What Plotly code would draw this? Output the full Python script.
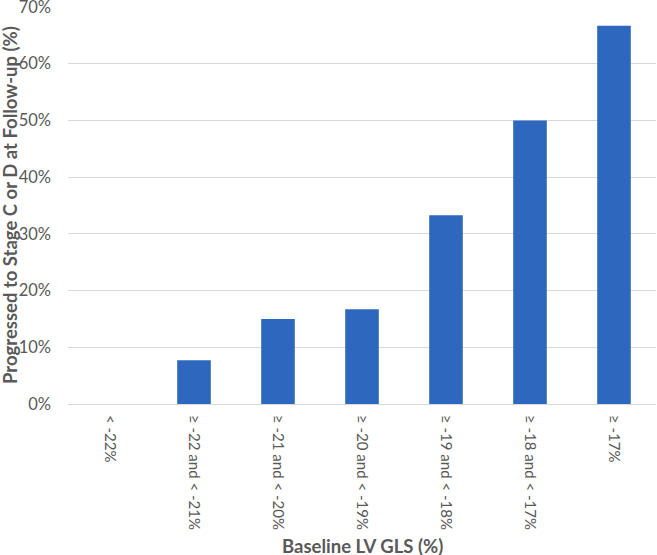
import plotly.graph_objects as go

categories = ["< -22%", "≥ -22 and < -21%", "≥ -21 and < -20%", "≥ -20 and < -19%",
              "≥ -19 and < -18%", "≥ -18 and < -17%", "≥ -17%"]
progressed = [0.0, 0.077, 0.15, 0.167, 0.333, 0.50, 0.667]
y_ticks = [0, 0.1, 0.2, 0.3, 0.4, 0.5, 0.6, 0.7]

FONT = "Lato"
GRAY = "#595959"

fig = go.Figure(go.Bar(x=categories, y=progressed, marker=dict(color="#2E67BE", line=dict(width=0))))

fig.update_layout(
    width=657, height=555,
    margin=dict(l=68, r=1, t=7, b=151, autoexpand=False),
    paper_bgcolor="white", plot_bgcolor="white",
    bargap=0.6,
    showlegend=False,
    font=dict(family=FONT, color=GRAY, size=16),
)
fig.update_yaxes(
    range=[0, 0.7], tickvals=y_ticks, tickformat=".0%",
    showgrid=True, gridcolor="#D9D9D9", gridwidth=1,
    zeroline=True, zerolinecolor="#D9D9D9", zerolinewidth=1,
    showline=False, ticks="", ticklabelstandoff=16, automargin=False,
    ticklabeloverflow="allow",
    tickfont=dict(family=FONT, size=16.5, color=GRAY),
)
fig.update_xaxes(
    tickangle=90, showgrid=False, showline=False, ticks="",
    ticklabelstandoff=10, automargin=False, ticklabeloverflow="allow",
    tickfont=dict(family=FONT, size=15, color=GRAY),
)
fig.add_annotation(
    text="<b>Progressed to Stage C or D at Follow-up (%)</b>",
    xref="paper", yref="paper", x=-58.5/588, y=0.5,
    textangle=-90, showarrow=False, xanchor="center", yanchor="middle",
    font=dict(family=FONT, size=18.5, color=GRAY),
)
fig.add_annotation(
    text="<b>Baseline LV GLS (%)</b>",
    xref="paper", yref="paper", x=0.5, y=-(545.5 - 403.5) / 397,
    showarrow=False, xanchor="center", yanchor="middle",
    font=dict(family=FONT, size=18.5, color=GRAY),
)
fig.write_html("out.html", config={"displayModeBar": False},
               post_script="document.body.style.margin='0';")
